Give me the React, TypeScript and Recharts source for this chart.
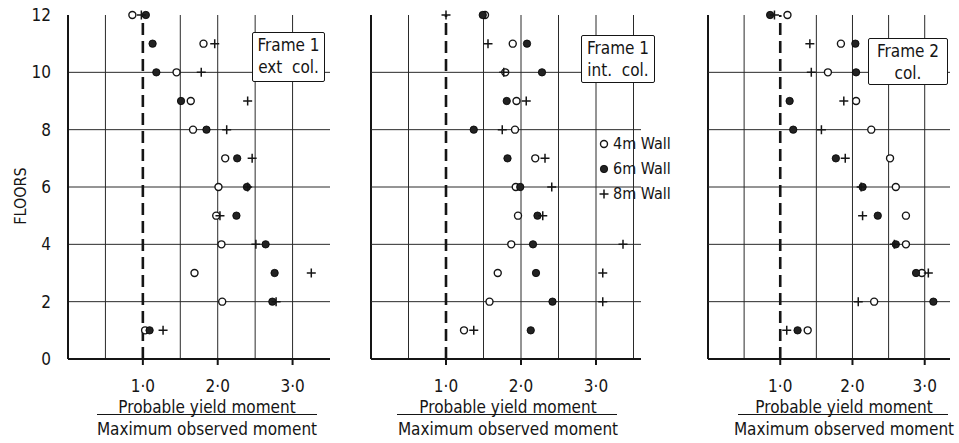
import { ScatterChart, Scatter, XAxis, YAxis, ReferenceLine, Legend } from "recharts";

const FONT = "'DejaVu Sans Condensed', 'DejaVu Sans', sans-serif";
const INK = "#151515";

// floors from top to bottom
const floors = [12, 11, 10, 9, 8, 7, 6, 5, 4, 3, 2, 1];
const floorTicks = [0, 2, 4, 6, 8, 10, 12];
const floorLines = [2, 4, 6, 8, 10];
const ratioTicks = [1, 2, 3];

// Frame 1, external column
const extCol4m = [0.86, 1.81, 1.45, 1.64, 1.67, 2.1, 2.01, 1.98, 2.05, 1.69, 2.06, 1.03];
const extCol6m = [1.04, 1.13, 1.18, 1.51, 1.85, 2.26, 2.39, 2.25, 2.64, 2.76, 2.73, 1.09];
const extCol8m = [0.98, 1.96, 1.78, 2.4, 2.12, 2.46, 2.4, 2.03, 2.51, 3.25, 2.78, 1.27];

// Frame 1, internal column
const intCol4m = [1.52, 1.89, 1.79, 1.94, 1.92, 2.19, 1.93, 1.96, 1.87, 1.69, 1.58, 1.24];
const intCol6m = [1.49, 2.08, 2.28, 1.81, 1.37, 1.82, 1.99, 2.22, 2.16, 2.2, 2.42, 2.13];
const intCol8m = [1.0, 1.56, 1.77, 2.07, 1.75, 2.32, 2.41, 2.29, 3.36, 3.09, 3.09, 1.37];

// Frame 2, column
const f2Col4m = [1.1, 1.84, 1.66, 2.05, 2.26, 2.52, 2.6, 2.74, 2.74, 2.96, 2.3, 1.38];
const f2Col6m = [0.86, 2.04, 2.05, 1.13, 1.18, 1.77, 2.14, 2.35, 2.6, 2.88, 3.12, 1.24];
const f2Col8m = [0.92, 1.41, 1.43, 1.88, 1.57, 1.9, 2.12, 2.14, 2.58, 3.05, 2.08, 1.09];

const legendNames = ["4m Wall", "6m Wall", "8m Wall"];

const toPoints = (vals: number[]) => floors.map((f, i) => ({ x: vals[i], y: f }));

const OpenDot = (p: any) => (
  <circle cx={p.cx} cy={p.cy} r={3.5} fill="#fff" stroke={INK} strokeWidth={1.4} />
);
const SolidDot = (p: any) => (
  <circle cx={p.cx} cy={p.cy} r={3.7} fill="#222" stroke="#000" strokeWidth={0.8} />
);
const Plus = (p: any) => (
  <path
    d={`M${p.cx - 4.5},${p.cy}h9M${p.cx},${p.cy - 4.5}v9`}
    stroke={INK}
    strokeWidth={1.5}
    fill="none"
  />
);

const shapes = [OpenDot, SolidDot, Plus];

function LegendBox() {
  return (
    <div style={{ fontFamily: FONT, fontSize: 16, color: INK }}>
      {legendNames.map((name, i) => {
        const Shape = shapes[i];
        return (
          <div key={name} style={{ display: "flex", alignItems: "center", height: 25 }}>
            <svg width={12} height={12} style={{ marginRight: 3 }}>
              <Shape cx={6} cy={6} />
            </svg>
            <span>{name}</span>
          </div>
        );
      })}
    </div>
  );
}

interface PanelProps {
  left: number;
  width: number;
  xMax: number;
  gridX: number[];
  series: number[][];
  withYAxis?: boolean;
  withLegend?: boolean;
}

function Panel({ left, width, xMax, gridX, series, withYAxis, withLegend }: PanelProps) {
  return (
    <div style={{ position: "absolute", left, top: 0 }}>
      <ScatterChart
        width={width}
        height={443}
        margin={{ top: 15, right: 10, left: withYAxis ? 0 : 10, bottom: 44 }}
      >
        <XAxis
          type="number"
          dataKey="x"
          domain={[0, xMax]}
          ticks={ratioTicks}
          allowDataOverflow
          tickFormatter={(v) => `${v}·0`}
          height={40}
          tickSize={6}
          tickMargin={15}
          axisLine={{ stroke: INK, strokeWidth: 2 }}
          tickLine={{ stroke: INK, strokeWidth: 2 }}
          tick={{ fill: INK, fontSize: 17, fontFamily: FONT }}
        />
        <YAxis
          type="number"
          dataKey="y"
          domain={[0, 12]}
          ticks={floorTicks}
          hide={!withYAxis}
          width={68}
          tickSize={0}
          tickMargin={17}
          tickLine={false}
          axisLine={{ stroke: INK, strokeWidth: 2 }}
          tick={{ fill: INK, fontSize: 17, fontFamily: FONT }}
        />
        {!withYAxis && <ReferenceLine x={0} stroke={INK} strokeWidth={2} />}
        {floorLines.map((f) => (
          <ReferenceLine key={`h${f}`} y={f} stroke="#2a2a2a" strokeWidth={1} />
        ))}
        {gridX.map((g) => (
          <ReferenceLine key={`v${g}`} x={g} stroke="#2a2a2a" strokeWidth={1} />
        ))}
        <ReferenceLine x={1} stroke={INK} strokeWidth={2.6} strokeDasharray="12 6" />
        {series.map((vals, i) => (
          <Scatter
            key={legendNames[i]}
            name={legendNames[i]}
            data={toPoints(vals)}
            shape={shapes[i]}
            isAnimationActive={false}
          />
        ))}
        {withLegend && (
          <Legend
            layout="vertical"
            align="center"
            verticalAlign="middle"
            wrapperStyle={{ left: 237, top: 131, width: 80 }}
            content={() => <LegendBox />}
          />
        )}
      </ScatterChart>
    </div>
  );
}

const frameBox = (left: number, top: number, w: number, h: number, lines: string[]) => (
  <div
    style={{
      position: "absolute",
      left,
      top,
      width: w,
      height: h,
      boxSizing: "border-box",
      border: `1.6px solid ${INK}`,
      borderRadius: 2,
      background: "#fff",
      fontFamily: FONT,
      fontSize: 17,
      lineHeight: "22px",
      paddingTop: 1,
      textAlign: "center",
      whiteSpace: "pre",
      color: INK,
    }}
  >
    {lines.map((l) => (
      <div key={l}>{l}</div>
    ))}
  </div>
);

const labelText: React.CSSProperties = {
  position: "absolute",
  width: 260,
  height: 22,
  lineHeight: "22px",
  textAlign: "center",
  fontFamily: FONT,
  fontSize: 17,
  color: INK,
};

const ratioLabel = (cx: number, lineLeft: number, lineRight: number) => (
  <>
    <div style={{ ...labelText, left: cx - 130, top: 396 }}>Probable yield moment</div>
    <div
      style={{
        position: "absolute",
        left: lineLeft,
        width: lineRight - lineLeft,
        top: 414,
        borderTop: `1.5px solid ${INK}`,
      }}
    />
    <div style={{ ...labelText, left: cx - 130, top: 418 }}>Maximum observed moment</div>
  </>
);

export default function App() {
  return (
    <div
      style={{
        position: "absolute",
        left: 0,
        top: 0,
        width: 959,
        height: 443,
        overflow: "hidden",
        background: "#fff",
      }}
    >
      <Panel
        left={0}
        width={340}
        xMax={3.5}
        gridX={[0.5, 1.5, 2, 2.5, 3]}
        series={[extCol4m, extCol6m, extCol8m]}
        withYAxis
      />
      <Panel
        left={361}
        width={290}
        xMax={3.6}
        gridX={[0.5, 1.5, 2, 2.5, 3, 3.5]}
        series={[intCol4m, intCol6m, intCol8m]}
        withLegend
      />
      <Panel
        left={698}
        width={262}
        xMax={3.35}
        gridX={[0.5, 1.5, 2, 2.5, 3]}
        series={[f2Col4m, f2Col6m, f2Col8m]}
      />
      <div
        style={{
          position: "absolute",
          left: 20,
          top: 196,
          transform: "translate(-50%, -50%) rotate(-90deg)",
          fontFamily: FONT,
          fontSize: 16,
          color: INK,
          whiteSpace: "nowrap",
        }}
      >
        FLOORS
      </div>
      {frameBox(252, 32, 73, 50, ["Frame 1", "ext  col."])}
      {frameBox(581, 35, 74, 48, ["Frame 1", "int.  col."])}
      {frameBox(868, 38, 80, 47, ["Frame 2", "col."])}
      {ratioLabel(207, 97, 317)}
      {ratioLabel(508, 397, 617)}
      {ratioLabel(844, 738, 948)}
    </div>
  );
}
